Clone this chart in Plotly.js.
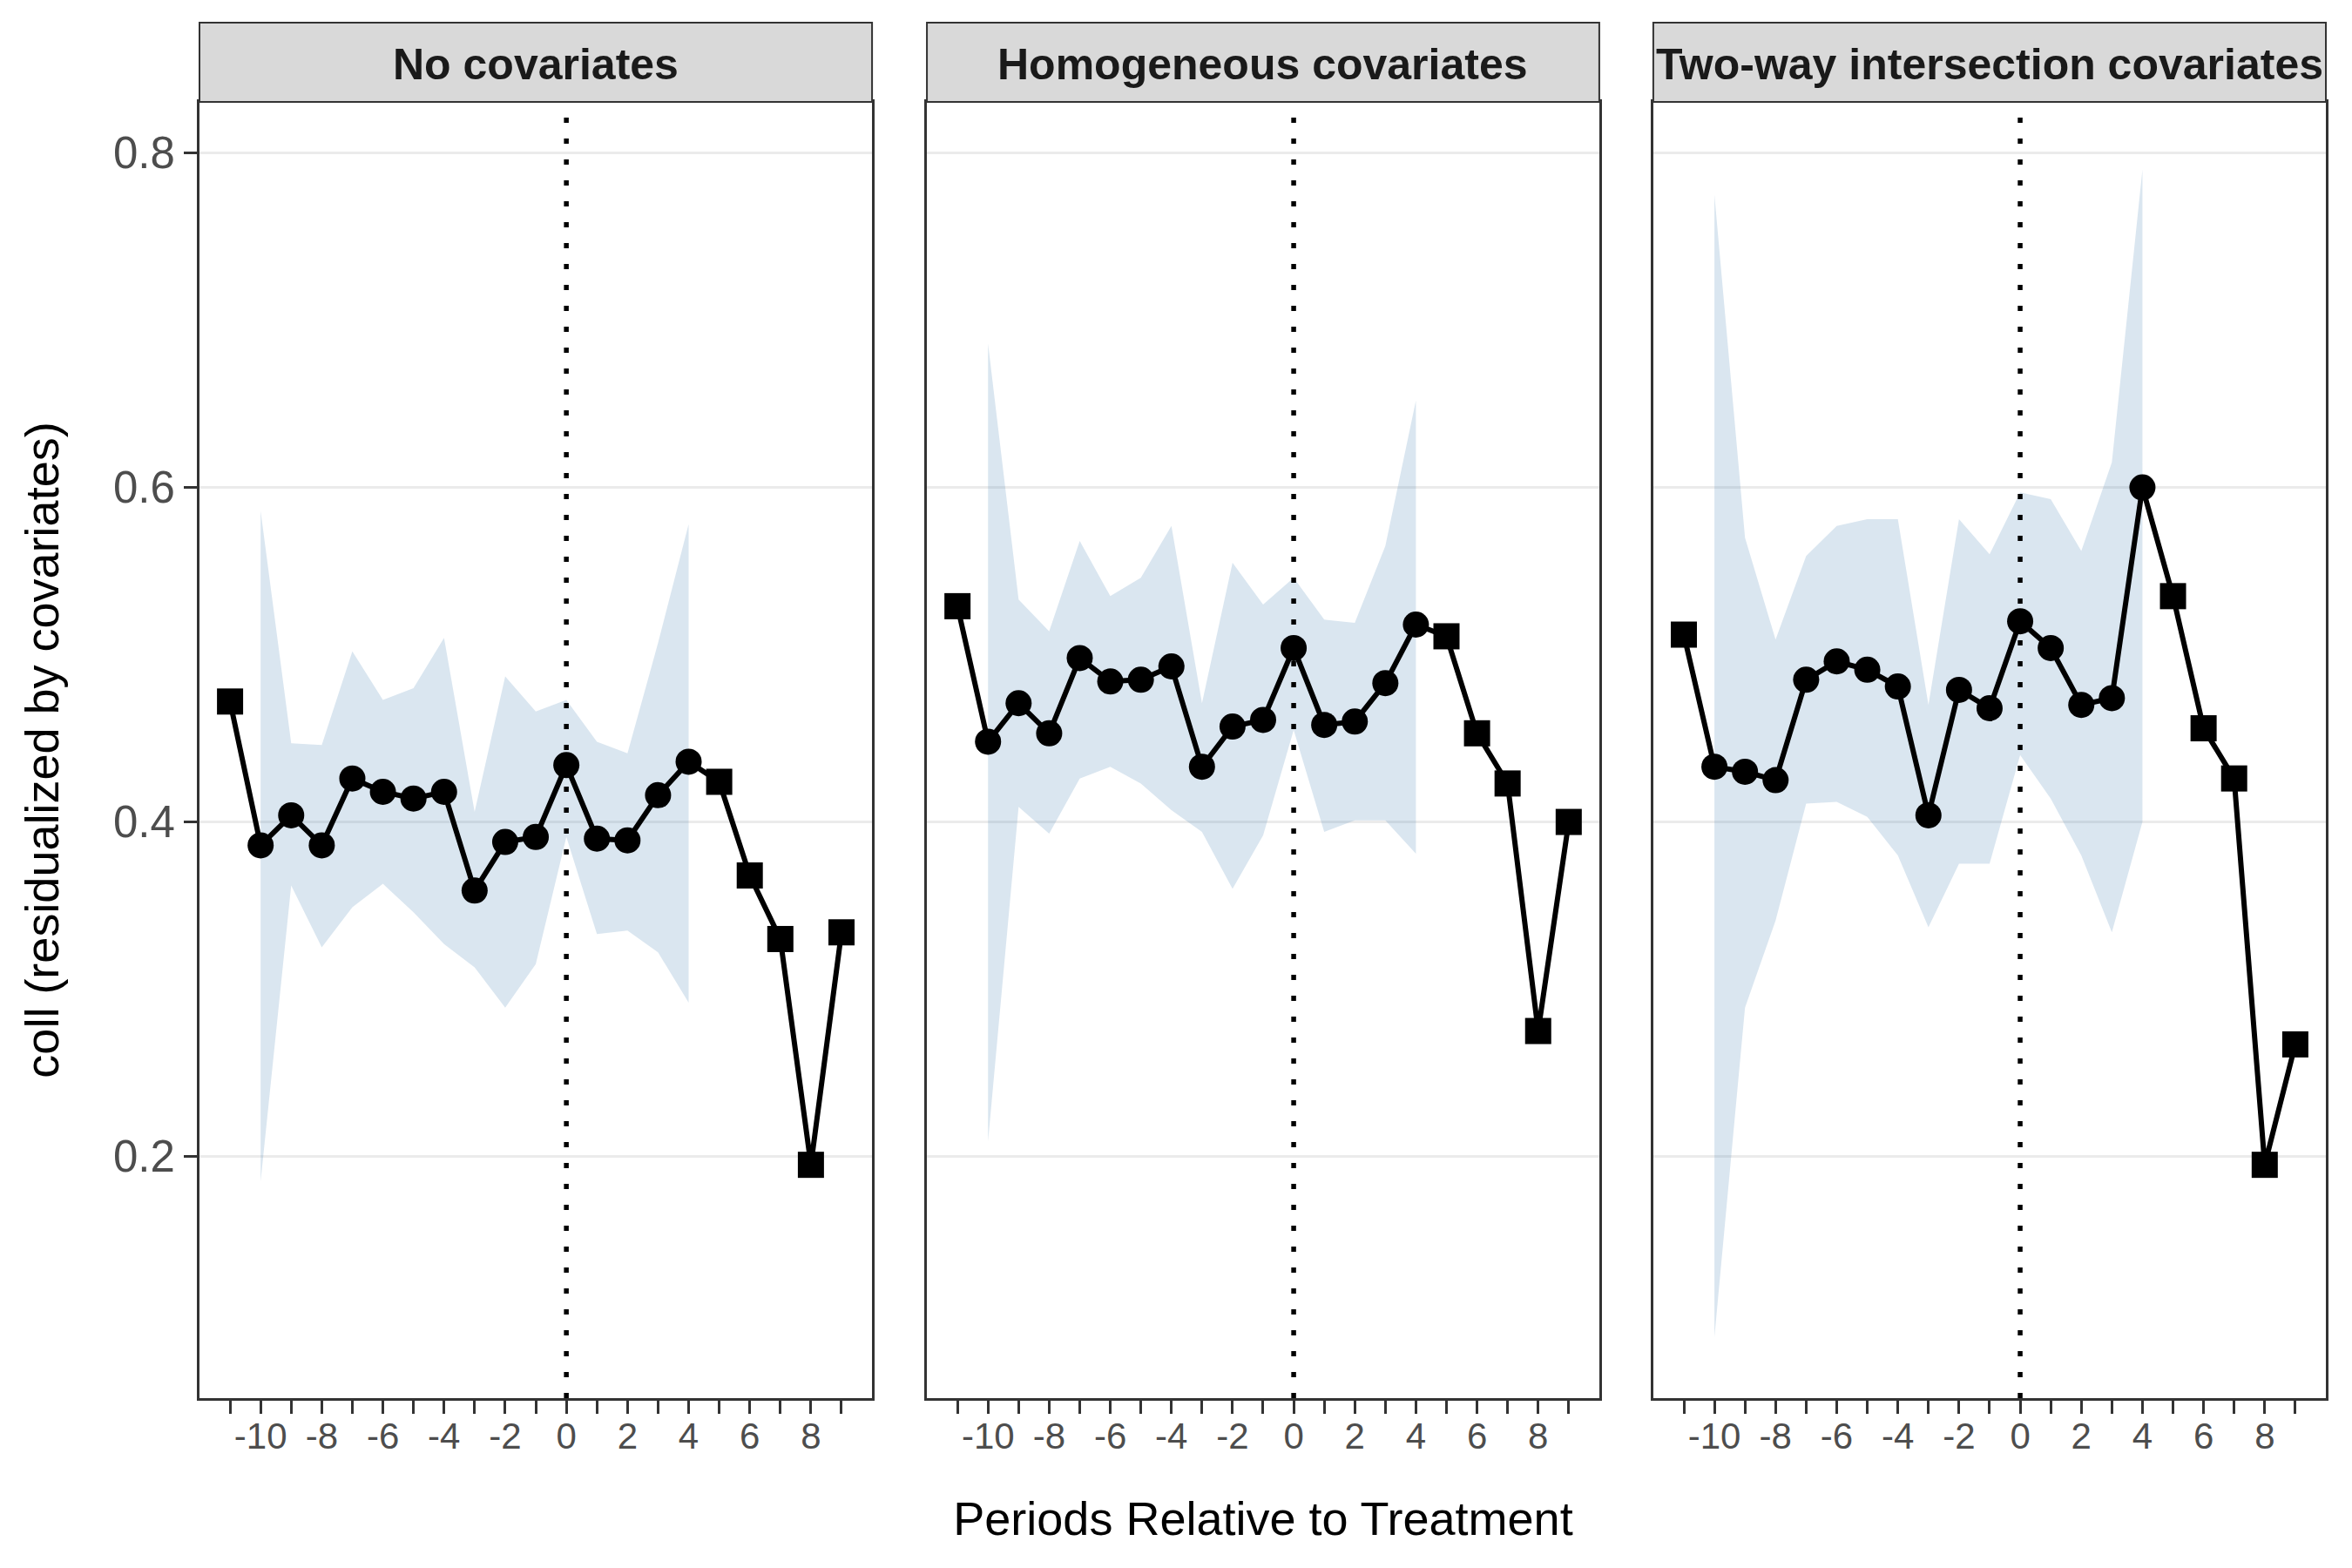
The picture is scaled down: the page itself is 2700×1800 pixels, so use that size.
<!DOCTYPE html>
<html>
<head>
<meta charset="utf-8">
<script src="https://cdn.plot.ly/plotly-3.0.1.min.js"></script>
<style>
  html, body { margin: 0; padding: 0; background: #ffffff; }
  #chart { width: 2700px; height: 1800px; }
</style>
</head>
<body>
<div id="chart"></div>
<script>
// periods relative to treatment, and the ones that have a confidence band
let periods = [-11, -10, -9, -8, -7, -6, -5, -4, -3, -2, -1, 0, 1, 2, 3, 4, 5, 6, 7, 8, 9];
let ci_periods = [-10, -9, -8, -7, -6, -5, -4, -3, -2, -1, 0, 1, 2, 3, 4];
let x_tick_text = ["", "-10", "", "-8", "", "-6", "", "-4", "", "-2", "", "0", "", "2", "", "4", "", "6", "", "8", ""];
let y_tick_vals = [0.2, 0.4, 0.6, 0.8];

let panel_titles = ["No covariates", "Homogeneous covariates", "Two-way intersection covariates"];

// No covariates
let est_none = [0.472, 0.386, 0.404, 0.386, 0.426, 0.418, 0.414, 0.418, 0.359, 0.388, 0.391,
                0.434, 0.390, 0.389, 0.416, 0.436, 0.424, 0.368, 0.330, 0.195, 0.334];
let hi_none = [0.586, 0.447, 0.446, 0.502, 0.473, 0.480, 0.510, 0.406, 0.487, 0.466, 0.473, 0.448, 0.441, 0.507, 0.578];
let lo_none = [0.185, 0.362, 0.325, 0.349, 0.363, 0.346, 0.327, 0.313, 0.289, 0.315, 0.391, 0.333, 0.335, 0.322, 0.292];

// Homogeneous covariates
let est_homog = [0.529, 0.448, 0.471, 0.453, 0.498, 0.484, 0.485, 0.493, 0.433, 0.457, 0.461,
                 0.504, 0.458, 0.460, 0.483, 0.518, 0.511, 0.453, 0.423, 0.275, 0.400];
let hi_homog = [0.686, 0.533, 0.514, 0.568, 0.535, 0.546, 0.577, 0.471, 0.555, 0.530, 0.546, 0.521, 0.519, 0.565, 0.652];
let lo_homog = [0.209, 0.409, 0.393, 0.426, 0.433, 0.423, 0.407, 0.394, 0.360, 0.392, 0.455, 0.394, 0.401, 0.401, 0.381];

// Two-way intersection covariates
let est_twoway = [0.512, 0.433, 0.430, 0.425, 0.485, 0.496, 0.491, 0.481, 0.404, 0.479, 0.468,
                  0.520, 0.504, 0.470, 0.474, 0.600, 0.535, 0.456, 0.426, 0.195, 0.267];
let hi_twoway = [0.775, 0.570, 0.509, 0.559, 0.577, 0.581, 0.581, 0.470, 0.581, 0.560, 0.597, 0.593, 0.562, 0.615, 0.790];
let lo_twoway = [0.092, 0.289, 0.341, 0.411, 0.412, 0.403, 0.380, 0.337, 0.375, 0.375, 0.440, 0.414, 0.380, 0.334, 0.400];

let estimates = [est_none, est_homog, est_twoway];
let uppers = [hi_none, hi_homog, hi_twoway];
let lowers = [lo_none, lo_homog, lo_twoway];

let domains = [[0, 0.3163], [0.3421, 0.6583], [0.6837, 1]];
let font_family = '"Liberation Sans", Arial, sans-serif';

let data = [];
let shapes = [];
let annotations = [];
let layout = {
    width: 2700,
    height: 1800,
    margin: { l: 229, r: 30, t: 117, b: 195 },
    paper_bgcolor: '#ffffff',
    plot_bgcolor: '#ffffff',
    font: { family: font_family, color: '#000000' },
    showlegend: false,
};

for (let i = 0; i < 3; ++i) {
    let suffix = i === 0 ? '' : String(i + 1);
    let xname = 'x' + suffix;
    let yname = 'y' + suffix;

    // confidence band as one closed polygon
    let band_x = ci_periods.concat(ci_periods.slice().reverse());
    let band_y = uppers[i].concat(lowers[i].slice().reverse());
    data.push({
        x: band_x,
        y: band_y,
        xaxis: xname,
        yaxis: yname,
        mode: 'lines',
        fill: 'toself',
        fillcolor: 'rgba(70,130,180,0.2)',
        line: { width: 0, color: 'rgba(0,0,0,0)' },
        hoverinfo: 'skip',
    });

    let symbols = periods.map(p => ci_periods.includes(p) ? 'circle' : 'square');
    data.push({
        x: periods,
        y: estimates[i],
        xaxis: xname,
        yaxis: yname,
        mode: 'lines+markers',
        line: { color: '#000000', width: 6 },
        marker: { color: '#000000', size: 30, symbol: symbols },
    });

    layout['xaxis' + suffix] = {
        domain: domains[i],
        anchor: yname,
        range: [-12, 10],
        tickmode: 'array',
        tickvals: periods,
        ticktext: x_tick_text,
        ticks: 'outside',
        ticklen: 15,
        tickwidth: 3,
        tickcolor: '#333333',
        ticklabelstandoff: -10,
        tickfont: { family: font_family, size: 42, color: '#4D4D4D' },
        showgrid: false,
        zeroline: false,
        showline: true,
        mirror: true,
        linecolor: '#333333',
        linewidth: 3,
    };

    layout['yaxis' + suffix] = {
        anchor: xname,
        range: [0.0555, 0.8305],
        tickmode: 'array',
        tickvals: y_tick_vals,
        ticks: i === 0 ? 'outside' : '',
        showticklabels: i === 0,
        ticklen: 15,
        tickwidth: 3,
        tickcolor: '#333333',
        ticklabelstandoff: 0,
        tickfont: { family: font_family, size: 51, color: '#4D4D4D' },
        showgrid: true,
        gridcolor: '#EBEBEB',
        gridwidth: 3,
        zeroline: false,
        showline: true,
        mirror: true,
        linecolor: '#333333',
        linewidth: 3,
    };

    // treatment marker at period 0
    shapes.push({
        type: 'line',
        xref: xname,
        yref: yname + ' domain',
        x0: 0, x1: 0, y0: 0, y1: 1,
        line: { color: '#000000', width: 5.5, dash: '6px,18px' },
    });

    // facet strip
    shapes.push({
        type: 'rect',
        xref: 'paper',
        yref: 'paper',
        x0: domains[i][0], x1: domains[i][1],
        y0: 1, y1: 1.0612,
        fillcolor: '#D9D9D9',
        line: { color: '#333333', width: 2 },
    });
    annotations.push({
        text: '<b>' + panel_titles[i] + '</b>',
        xref: 'paper',
        yref: 'paper',
        x: (domains[i][0] + domains[i][1]) / 2,
        y: 1.0286,
        xanchor: 'center',
        yanchor: 'middle',
        showarrow: false,
        font: { family: font_family, size: 50, color: '#1A1A1A' },
    });
}

layout.yaxis.title = {
    text: 'coll (residualized by covariates)',
    font: { family: font_family, size: 54, color: '#000000' },
    standoff: 45,
};
layout.xaxis2.title = {
    text: 'Periods Relative to Treatment',
    font: { family: font_family, size: 54, color: '#000000' },
    standoff: 53,
};

layout.shapes = shapes;
layout.annotations = annotations;

Plotly.newPlot('chart', data, layout, { displayModeBar: false, staticPlot: true });
</script>
</body>
</html>
